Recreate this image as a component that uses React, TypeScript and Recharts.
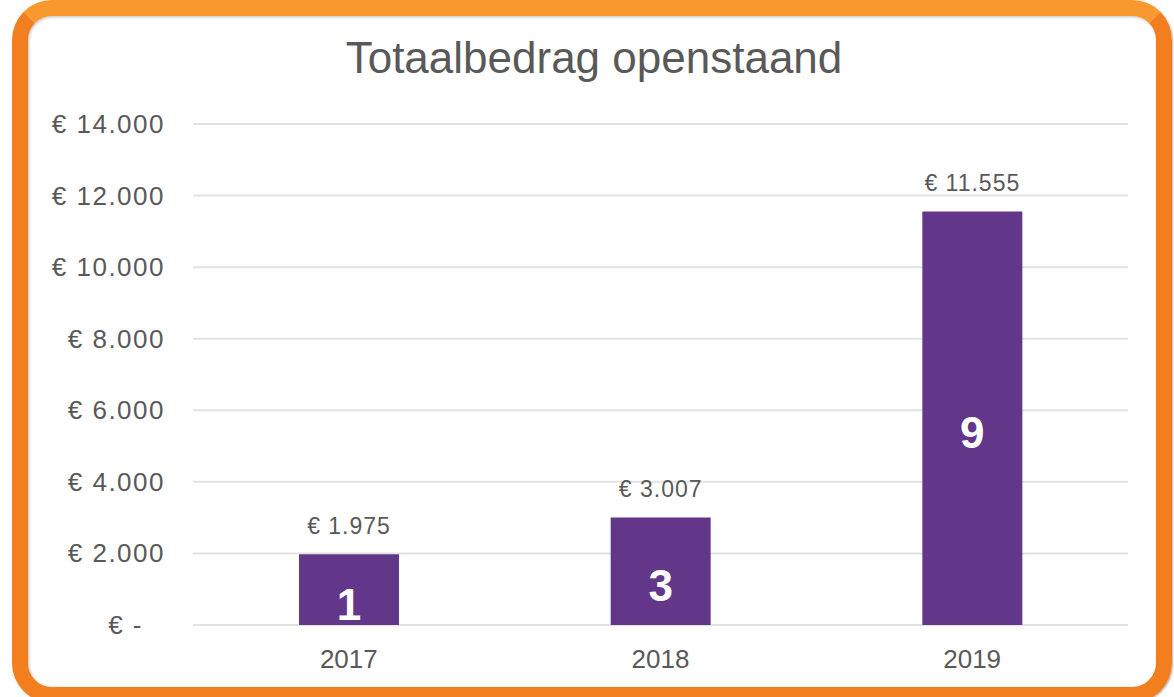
import { Bar, BarChart, CartesianGrid, LabelList, XAxis, YAxis } from "recharts";

const years = ["2017", "2018", "2019"];
const totals = [1975, 3007, 11555];
const counts = [1, 3, 9];
const yTicks = [0, 2000, 4000, 6000, 8000, 10000, 12000, 14000];

const rows = years.map((year, i) => ({ year, total: totals[i], count: counts[i] }));

const FONT = '"Liberation Sans", Arial, sans-serif';
const GREY = "#595959";

function euro(value: number) {
  return `€ ${String(value).replace(/\B(?=(\d{3})+(?!\d))/g, ".")}`;
}

function YTick({ x, y, payload }: { x?: number; y?: number; payload?: { value: number } }) {
  const value = payload?.value ?? 0;
  return (
    <text
      x={(x ?? 0) - (value === 0 ? 22 : 0)}
      y={y}
      dy={9}
      textAnchor="end"
      fill={GREY}
      fontFamily={FONT}
      fontSize={26}
      letterSpacing={1.5}
    >
      {value === 0 ? "€ -" : euro(value)}
    </text>
  );
}

function XTick({ x, y, payload }: { x?: number; y?: number; payload?: { value: string } }) {
  return (
    <text x={x} y={y} dy={23} textAnchor="middle" fill={GREY} fontFamily={FONT} fontSize={26}>
      {payload?.value}
    </text>
  );
}

function TotalLabel(props: any) {
  const { x, y, width, value } = props;
  return (
    <text
      x={x + width / 2}
      y={y - 20}
      textAnchor="middle"
      fill={GREY}
      fontFamily={FONT}
      fontSize={23}
      letterSpacing={1}
    >
      {euro(value)}
    </text>
  );
}

function CountLabel(props: any) {
  const { x, y, width, height, value } = props;
  return (
    <text
      x={x + width / 2}
      y={y + height / 2 + 30}
      textAnchor="middle"
      fill="#FFFFFF"
      fontFamily={FONT}
      fontWeight="bold"
      fontSize={44}
    >
      {value}
    </text>
  );
}

export default function App() {
  return (
    <div
      style={{
        position: "absolute",
        top: 0,
        left: 0,
        width: 1174,
        height: 697,
        overflow: "hidden",
        background: "#FFFFFF",
      }}
    >
      <BarChart
        width={1174}
        height={697}
        data={rows}
        margin={{ top: 124, right: 46, bottom: 0, left: 0 }}
        barSize={100}
      >
        <CartesianGrid stroke="#E2E2E2" strokeWidth={2} vertical={false} />
        <XAxis
          dataKey="year"
          height={72}
          axisLine={false}
          tickLine={false}
          tickSize={0}
          tickMargin={20}
          tick={<XTick />}
        />
        <YAxis
          width={193}
          domain={[0, 14000]}
          ticks={yTicks}
          axisLine={false}
          tickLine={false}
          tickSize={0}
          tickMargin={28}
          tick={<YTick />}
        />
        <Bar dataKey="total" fill="#62378A" isAnimationActive={false}>
          <LabelList dataKey="total" content={<TotalLabel />} />
          <LabelList dataKey="count" content={<CountLabel />} />
        </Bar>
      </BarChart>

      {/* title */}
      <svg
        width={1174}
        height={100}
        style={{ position: "absolute", top: 0, left: 0, pointerEvents: "none" }}
      >
        <text x={594} y={73} textAnchor="middle" fill={GREY} fontFamily={FONT} fontSize={44}>
          Totaalbedrag openstaand
        </text>
      </svg>

      {/* orange frame */}
      <div
        style={{
          position: "absolute",
          left: 12,
          top: 0,
          width: 1160,
          height: 703,
          boxSizing: "border-box",
          border: "16px solid #F27E1E",
          borderTopColor: "#F8982F",
          borderRadius: 40,
          boxShadow: "inset 1px 1px 3px rgba(0,0,0,0.25), 1px 1px 2px rgba(0,0,0,0.3)",
          pointerEvents: "none",
        }}
      />
    </div>
  );
}
